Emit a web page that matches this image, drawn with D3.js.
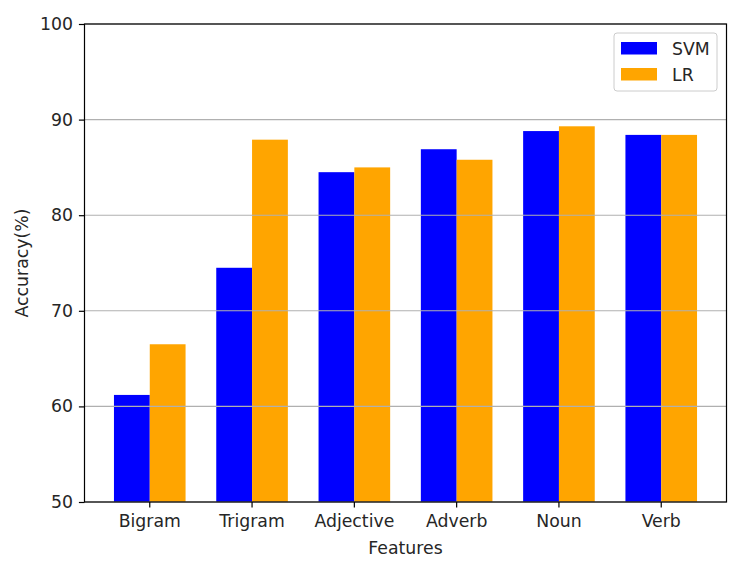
<!DOCTYPE html>
<html>
<head>
<meta charset="utf-8">
<script src="https://cdn.jsdelivr.net/npm/d3@7/dist/d3.min.js"></script>
<style>
  body { margin: 0; background: #fff; }
  svg text { font-family: "DejaVu Sans", sans-serif; fill: #262626; }
</style>
</head>
<body>
<div id="chart"></div>
<script>
// data
var features = ["Bigram", "Trigram", "Adjective", "Adverb", "Noun", "Verb"];
var svmAcc = [61.2, 74.5, 84.5, 86.9, 88.8, 88.4];
var lrAcc = [66.5, 87.9, 85.0, 85.8, 89.3, 88.4];
var seriesNames = ["SVM", "LR"];
var seriesColors = ["#0000ff", "#ffa500"];
var yTicks = [50, 60, 70, 80, 90, 100];

var width = 741, height = 565;
var margin = { top: 24, right: 14.5, bottom: 63, left: 84.5 };
var fontSize = 17.3;

var rows = features.map(function (f, i) {
  return { feature: f, values: [svmAcc[i], lrAcc[i]] };
});

var svg = d3.select("#chart")
  .append("svg")
  .attr("width", width)
  .attr("height", height);

var x0 = d3.scaleBand()
  .domain(features)
  .range([margin.left, width - margin.right])
  .paddingInner(0.3)
  .paddingOuter(0.288);

var x1 = d3.scaleBand()
  .domain(seriesNames)
  .range([0, x0.bandwidth()]);

var y = d3.scaleLinear()
  .domain([50, 100])
  .range([height - margin.bottom, margin.top]);

// bars
var groups = svg.append("g").selectAll("g")
  .data(rows)
  .enter()
  .append("g")
  .attr("transform", function (d) { return "translate(" + x0(d.feature) + ",0)"; });

groups.selectAll("rect")
  .data(function (d) {
    return d.values.map(function (v, j) { return { name: seriesNames[j], value: v, color: seriesColors[j] }; });
  })
  .enter()
  .append("rect")
  .attr("x", function (d) { return x1(d.name); })
  .attr("width", x1.bandwidth())
  .attr("y", function (d) { return y(d.value); })
  .attr("height", function (d) { return y(50) - y(d.value); })
  .attr("fill", function (d) { return d.color; });

// grid on top of the bars
svg.append("g")
  .selectAll("line")
  .data(yTicks)
  .enter()
  .append("line")
  .attr("x1", margin.left)
  .attr("x2", width - margin.right)
  .attr("y1", function (d) { return y(d); })
  .attr("y2", function (d) { return y(d); })
  .attr("stroke", "#b0b0b0")
  .attr("stroke-width", 1.1);

// axes
var yAxis = svg.append("g")
  .attr("transform", "translate(" + margin.left + ",0)")
  .call(d3.axisLeft(y).tickValues(yTicks).tickSize(5.6).tickPadding(6));

var xAxis = svg.append("g")
  .attr("transform", "translate(0," + (height - margin.bottom) + ")")
  .call(d3.axisBottom(x0).tickSize(5.6).tickPadding(7));

[xAxis, yAxis].forEach(function (ax) {
  ax.select(".domain").remove();
  ax.selectAll(".tick line").attr("stroke", "#000").attr("stroke-width", 1.2);
  ax.selectAll(".tick text")
    .attr("font-size", fontSize)
    .attr("font-family", "DejaVu Sans")
    .attr("fill", "#262626");
});

// frame
svg.append("rect")
  .attr("x", margin.left)
  .attr("y", margin.top)
  .attr("width", width - margin.left - margin.right)
  .attr("height", height - margin.top - margin.bottom)
  .attr("fill", "none")
  .attr("stroke", "#000")
  .attr("stroke-width", 1.2);

// axis titles
svg.append("text")
  .attr("x", (margin.left + width - margin.right) / 2)
  .attr("y", 554)
  .attr("text-anchor", "middle")
  .attr("font-size", fontSize)
  .text("Features");

svg.append("text")
  .attr("transform", "translate(28," + ((margin.top + height - margin.bottom) / 2) + ") rotate(-90)")
  .attr("text-anchor", "middle")
  .attr("font-size", fontSize)
  .text("Accuracy(%)");

// legend
var legend = svg.append("g").attr("transform", "translate(614,33)");
legend.append("rect")
  .attr("width", 103)
  .attr("height", 58)
  .attr("rx", 3)
  .attr("fill", "#fff")
  .attr("fill-opacity", 0.8)
  .attr("stroke", "#cccccc");

var items = legend.selectAll("g.item")
  .data(seriesNames)
  .enter()
  .append("g")
  .attr("class", "item")
  .attr("transform", function (d, i) { return "translate(7," + (9 + i * 26) + ")"; });

items.append("rect")
  .attr("width", 36)
  .attr("height", 12.5)
  .attr("fill", function (d, i) { return seriesColors[i]; });

items.append("text")
  .attr("x", 51)
  .attr("y", 13)
  .attr("font-size", fontSize)
  .text(function (d) { return d; });
</script>
</body>
</html>
